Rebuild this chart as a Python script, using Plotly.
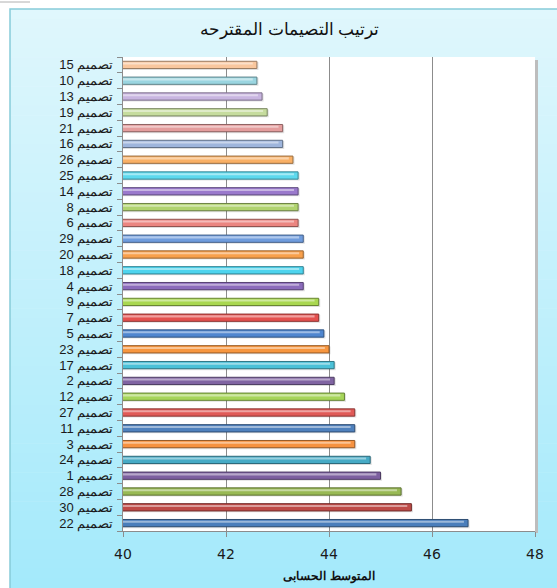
import plotly.graph_objects as go

# Designs listed from the bottom of the chart to the top
design_numbers = [22, 30, 28, 1, 24, 3, 11, 27, 12, 2, 17, 23, 5, 7, 9,
                  4, 18, 20, 29, 6, 8, 14, 25, 26, 16, 21, 19, 13, 10, 15]
mean_scores = [46.7, 45.6, 45.4, 45.0, 44.8, 44.5, 44.5, 44.5, 44.3, 44.1,
               44.1, 44.0, 43.9, 43.8, 43.8, 43.5, 43.5, 43.5, 43.5, 43.4,
               43.4, 43.4, 43.4, 43.3, 43.1, 43.1, 42.8, 42.7, 42.6, 42.6]
# leading LRM keeps the number on the left of the word
labels = [f"\u200e{n} تصميم" for n in design_numbers]
x_ticks = [40, 42, 44, 46, 48]

bar_colors = ["#4A7EBB", "#BE4B48", "#98B954", "#7D60A0", "#46AAC5", "#F69240",
              "#4F81BD", "#E05A57", "#A6D55A", "#8064A2", "#4BC1D8", "#F7963F",
              "#4F86CF", "#E4514F", "#A9D750", "#8B6BBB", "#4ED4EE", "#F8A04C",
              "#6F9CDD", "#EB8580", "#B0D36F", "#9A79CC", "#5DD9EE", "#F9B066",
              "#9EB5DC", "#E49D9D", "#C6DC9E", "#C8B5E0", "#9AD5E0", "#F9C79E"]


def shade(hex_color, f):
    h = hex_color.lstrip("#")
    r, g, b = (int(h[i:i + 2], 16) for i in (0, 2, 4))
    return "rgb({},{},{})".format(int(r * f), int(g * f), int(b * f))


def tint(hex_color, f):
    h = hex_color.lstrip("#")
    r, g, b = (int(h[i:i + 2], 16) for i in (0, 2, 4))
    return "rgb({},{},{})".format(int(r + (255 - r) * f), int(g + (255 - g) * f),
                                  int(b + (255 - b) * f))


W, H = 557, 588
L, R, T, B = 123, 22, 57, 57
pw, ph = W - L - R, H - T - B


def px_x(p):
    return (p - L) / pw


def px_y(p):
    return (H - B - p) / ph


fig = go.Figure()

# soft drop shadow under each bar
fig.add_trace(go.Bar(
    y=labels, x=[v + 0.03 for v in mean_scores], orientation="h",
    width=0.5, offset=-0.32,
    marker=dict(color="rgba(0,0,0,0.12)", line=dict(width=0)),
    hoverinfo="skip", showlegend=False,
))
# main bar bodies
fig.add_trace(go.Bar(
    y=labels, x=mean_scores, orientation="h",
    width=0.46, offset=-0.23,
    marker=dict(color=bar_colors,
                line=dict(color=[shade(c, 0.62) for c in bar_colors], width=1)),
    showlegend=False,
))
# lighter highlight strip along the top of each bar
fig.add_trace(go.Bar(
    y=labels, x=[v - 0.08 for v in mean_scores], orientation="h",
    width=0.13, offset=0.02,
    marker=dict(color=[tint(c, 0.45) for c in bar_colors], line=dict(width=0)),
    hoverinfo="skip", showlegend=False,
))

shapes = []
# vertical gradient for the chart background
n = 60
top_c, bot_c = (224, 247, 253), (164, 234, 251)
y0, y1 = 9, H
for i in range(n):
    t = i / (n - 1)
    col = tuple(int(top_c[k] + (bot_c[k] - top_c[k]) * t) for k in range(3))
    ya = y0 + (y1 - y0) * i / n
    yb = y0 + (y1 - y0) * (i + 1) / n + 0.6
    shapes.append(dict(type="rect", xref="paper", yref="paper", layer="below",
                       x0=px_x(10), x1=px_x(W), y0=px_y(yb), y1=px_y(ya),
                       fillcolor="rgb({},{},{})".format(*col), line=dict(width=0)))
# chart frame
shapes.append(dict(type="rect", xref="paper", yref="paper", layer="below",
                   x0=px_x(10), x1=px_x(W + 5), y0=px_y(H + 5), y1=px_y(9),
                   fillcolor="rgba(0,0,0,0)", line=dict(color="#86CCD9", width=1.5)))
# plot area with a thin shadow on the right
shapes.append(dict(type="rect", xref="paper", yref="paper", layer="below",
                   x0=1.0, x1=px_x(L + pw + 3), y0=px_y(H - B + 2), y1=px_y(T + 3),
                   fillcolor="#BDBDBD", line=dict(width=0)))
shapes.append(dict(type="rect", xref="paper", yref="paper", layer="below",
                   x0=0, x1=1, y0=0, y1=1, fillcolor="white", line=dict(width=0)))
# small stray line at the top-left corner
shapes.append(dict(type="line", xref="paper", yref="paper", layer="above",
                   x0=px_x(0), x1=px_x(30), y0=px_y(2), y1=px_y(2),
                   line=dict(color="#B0B0B0", width=1)))

fig.update_layout(
    width=W, height=H,
    margin=dict(l=L, r=R, t=T, b=B),
    paper_bgcolor="white",
    plot_bgcolor="white",
    barmode="overlay",
    shapes=shapes,
    font=dict(family="Liberation Sans, Arial, sans-serif", color="#1A1A1A"),
    title=dict(text="ترتيب التصيمات المقترحه", x=0.52, xanchor="center",
               y=1 - 29 / H, yanchor="middle", yref="container",
               font=dict(size=17, color="#111111",
                         family="Liberation Sans, Arial, sans-serif")),
    xaxis=dict(
        range=[40, 48], tickvals=x_ticks, ticktext=[str(v) for v in x_ticks],
        showgrid=True, gridcolor="#8C8C8C", gridwidth=1,
        zeroline=False, showline=True, linecolor="#8C8C8C", linewidth=1,
        ticks="outside", ticklen=5, tickcolor="#8C8C8C",
        ticklabelstandoff=5, automargin=False,
        tickfont=dict(size=14, color="#1A1A1A",
                      family="DejaVu Sans, Verdana, sans-serif"),
        title=dict(text="<b>المتوسط الحسابى</b>", standoff=10,
                   font=dict(size=12, color="#111111")),
        fixedrange=True,
    ),
    yaxis=dict(
        type="category", categoryorder="array", categoryarray=labels,
        range=[-0.5, len(labels) - 0.5],
        tickmode="linear", dtick=1, tick0=0,
        showgrid=False, zeroline=False,
        showline=True, linecolor="#8C8C8C", linewidth=1,
        ticks="outside", ticklen=5, tickcolor="#8C8C8C", tickson="boundaries",
        tickfont=dict(size=13, color="#1A1A1A"),
        ticklabelstandoff=6, automargin=False,
        fixedrange=True,
    ),
)

fig.write_html("out.html")
